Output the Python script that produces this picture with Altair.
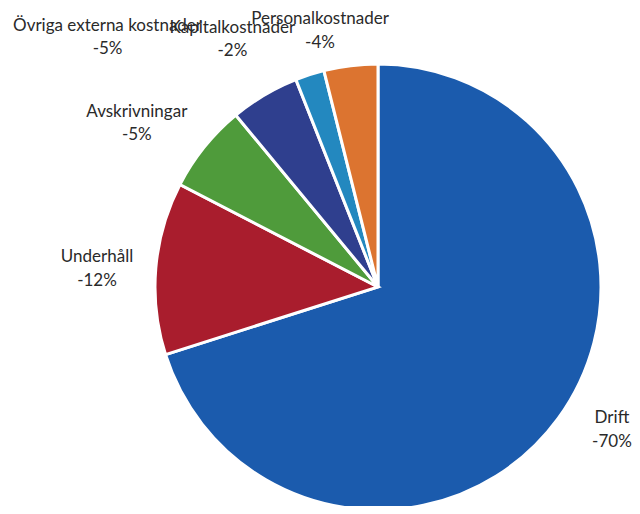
import math
import altair as alt
import pandas as pd

# --- data ---
categories = ["Drift", "Underhåll", "Avskrivningar", "Övriga externa kostnader",
              "Kapitalkostnader", "Personalkostnader"]
shares = [70.1, 12.5, 6.4, 5.0, 2.1, 3.9]          # slice sizes (% of circle)
pct_labels = ["-70%", "-12%", "-5%", "-5%", "-2%", "-4%"]  # printed labels
colors = ["#1B5BAD", "#A91D2D", "#4F9B3B", "#2F3F8E", "#2388BF", "#DC7430"]

# label nudges (pixels) relative to the mid-angle anchor
label_nudge = {
    "Drift": (16, -23),
    "Underhåll": (-12, -2),
    "Avskrivningar": (-31, -1),
    "Övriga externa kostnader": (-133, -24),
    "Kapitalkostnader": (-63, 3),
    "Personalkostnader": (-25, 5),
}

df = pd.DataFrame({
    "idx": list(range(len(categories))),
    "cat": categories,
    "share": shares,
    "label": [f"{c}\n{p}" for c, p in zip(categories, pct_labels)],
})

CX, CY = 370, 279
FONT = "Lato"

base = (
    alt.Chart(df)
    .transform_joinaggregate(total="sum(share)")
    .transform_window(cum="sum(share)", sort=[alt.SortField("idx")], frame=[None, 0])
    .transform_calculate(
        start="(datum.cum - datum.share) / datum.total",
        end="datum.cum / datum.total",
    )
    .transform_calculate(mid="(datum.start + datum.end) / 2")
)

theta_scale = alt.Scale(domain=[0, 1], range=[0, 2 * math.pi])

arcs = base.mark_arc(radius=223, stroke="white", strokeWidth=3).encode(
    x=alt.value(CX),
    y=alt.value(CY),
    theta=alt.Theta("start:Q", scale=theta_scale),
    theta2="end:Q",
    color=alt.Color("cat:N", scale=alt.Scale(domain=categories, range=colors), legend=None),
)

texts = []
for c in categories:
    dx, dy = label_nudge[c]
    t = (
        base.transform_filter(alt.datum.cat == c)
        .mark_text(radius=270, dx=dx, dy=dy, align="center", baseline="alphabetic",
                   lineBreak="\n", lineHeight=23.5, font=FONT, fontSize=17, color="#2a2a2a")
        .encode(
            x=alt.value(CX),
            y=alt.value(CY),
            theta=alt.Theta("mid:Q", scale=theta_scale),
            text="label:N",
        )
    )
    texts.append(t)

chart = (
    alt.layer(arcs, *texts)
    .properties(width=624, height=498, autosize="none", padding=0)
    .configure_view(stroke=None)
)

chart.save("out.html", embed_options={"renderer": "svg", "actions": False})
